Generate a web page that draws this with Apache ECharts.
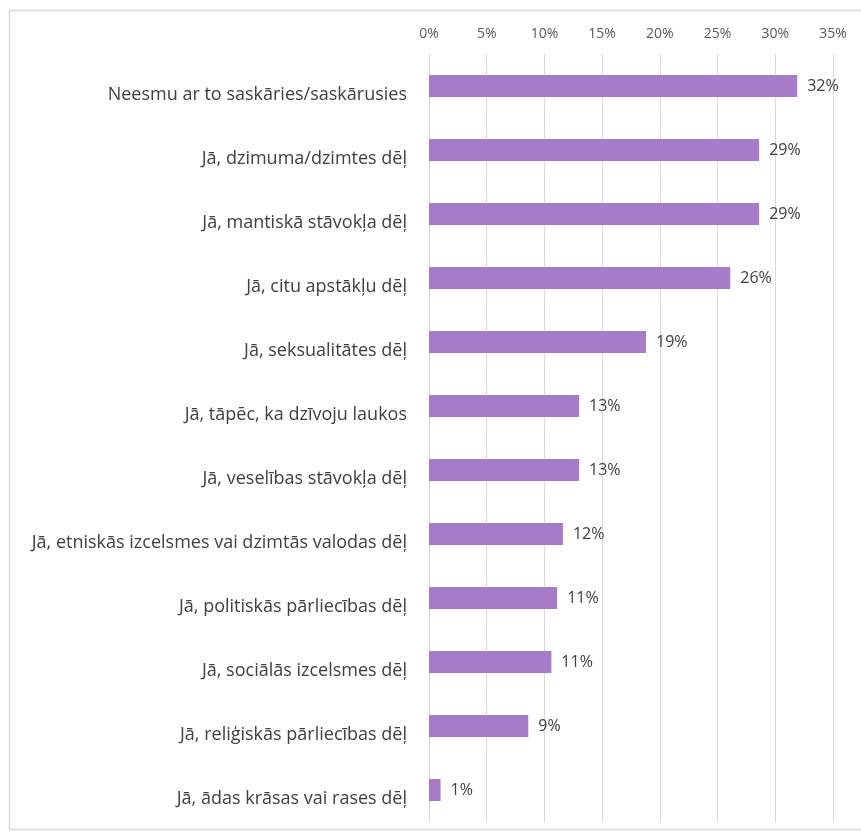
<!DOCTYPE html>
<html>
<head>
<meta charset="utf-8">
<script src="https://cdn.jsdelivr.net/npm/echarts@6/dist/echarts.min.js"></script>
<style>
html,body{margin:0;padding:0;background:#fff;}
#chart{width:861px;height:836px;}
</style>
</head>
<body>
<div id="chart"></div>
<script>
const categories = [
  "Neesmu ar to saskāries/saskārusies",
  "Jā, dzimuma/dzimtes dēļ",
  "Jā, mantiskā stāvokļa dēļ",
  "Jā, citu apstākļu dēļ",
  "Jā, seksualitātes dēļ",
  "Jā, tāpēc, ka dzīvoju laukos",
  "Jā, veselības stāvokļa dēļ",
  "Jā, etniskās izcelsmes vai dzimtās valodas dēļ",
  "Jā, politiskās pārliecības dēļ",
  "Jā, sociālās izcelsmes dēļ",
  "Jā, reliģiskās pārliecības dēļ",
  "Jā, ādas krāsas vai rases dēļ"
];
const values = [31.9, 28.6, 28.6, 26.1, 18.8, 13.0, 13.0, 11.6, 11.1, 10.6, 8.6, 1.0];
const xTicks = [0, 5, 10, 15, 20, 25, 30, 35];

const chart = echarts.init(document.getElementById('chart'), null, {renderer: 'canvas'});
const font = 'Open Sans, Noto Sans, sans-serif';
chart.setOption({
  animation: false,
  graphic: [{
    type: 'rect',
    shape: {x: 9.5, y: 10.5, width: 860, height: 819},
    style: {fill: 'none', stroke: '#d9d9d9', lineWidth: 1.5},
    silent: true
  }],
  grid: {left: 429, right: 28, top: 54, bottom: 14, containLabel: false},
  xAxis: {
    type: 'value',
    position: 'top',
    min: xTicks[0],
    max: xTicks[xTicks.length - 1],
    interval: 5,
    axisLine: {show: false},
    axisTick: {show: false},
    axisLabel: {
      formatter: v => v + '%',
      color: '#595959',
      fontFamily: font,
      fontSize: 14,
      margin: 13
    },
    splitLine: {show: true, lineStyle: {color: '#d9d9d9', width: 1}}
  },
  yAxis: {
    type: 'category',
    data: categories,
    inverse: true,
    axisLine: {show: false},
    axisTick: {show: false},
    axisLabel: {
      color: '#404040',
      fontFamily: font,
      fontSize: 18,
      margin: 22,
      verticalAlign: 'top'
    }
  },
  series: [{
    type: 'bar',
    data: values,
    barWidth: 22,
    itemStyle: {color: '#a67cc9'},
    label: {
      show: true,
      position: 'right',
      distance: 10,
      formatter: p => Math.round(p.value) + '%',
      color: '#404040',
      fontFamily: font,
      fontSize: 16
    }
  }]
});
</script>
</body>
</html>
